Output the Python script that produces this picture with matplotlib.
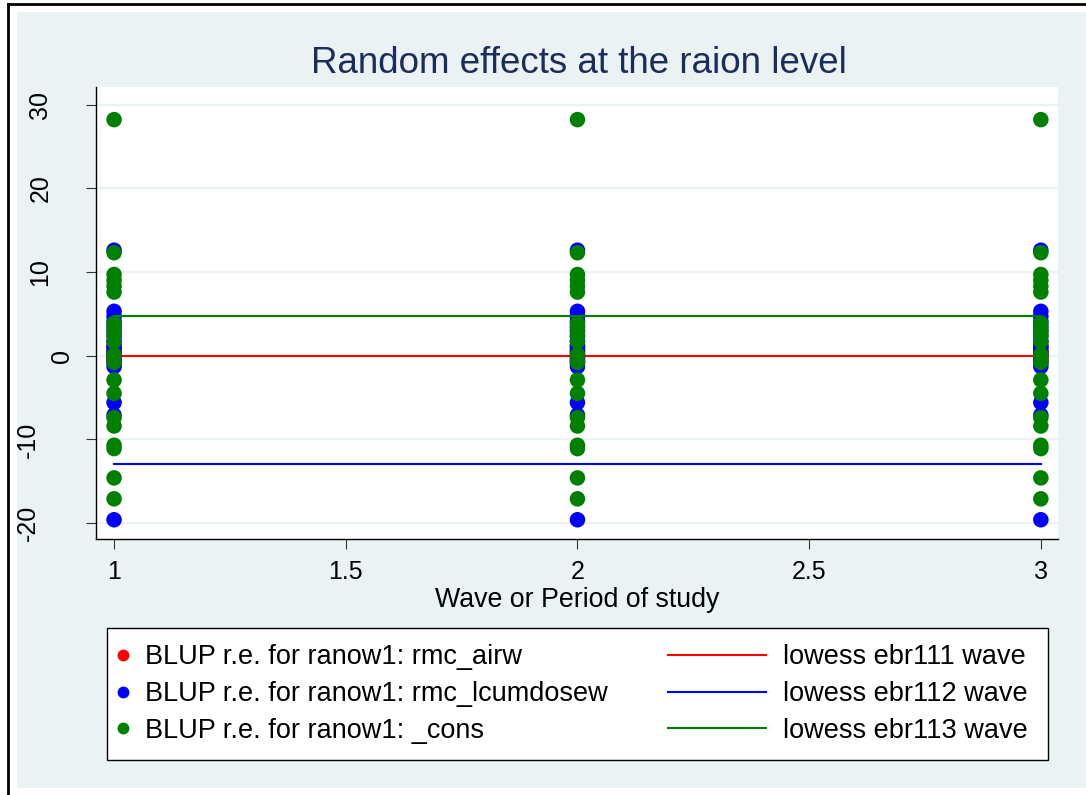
import matplotlib
matplotlib.use('Agg')
import matplotlib.pyplot as plt
from matplotlib.patches import Rectangle
from matplotlib.lines import Line2D
from matplotlib.transforms import ScaledTranslation, blended_transform_factory

plt.rcParams['font.family'] = ['Liberation Sans', 'DejaVu Sans']

# waves (x axis)
waves = [1, 2, 3]

# BLUP random effects per raion (same at each wave)
re_airw = [-0.9, -0.5, -0.2, 0.1, 0.3, 0.6, 0.9, 1.2]
re_lcumdosew = [12.6, 5.3, 4.7, 4.1, 3.5, 2.9, 2.3, 1.7, 1.1, 0.5, -0.1, -0.7, -1.3,
                -5.6, -7.1, -19.6]
re_cons = [28.2, 12.3, 9.7, 9.0, 8.3, 7.6, 3.9, 3.2, 2.5, 1.7, 0.1, -0.8,
           -2.9, -4.5, -7.4, -8.4, -10.7, -11.1, -14.6, -17.1]

# lowess smooths
lowess_111 = [0.0, 0.0, 0.0]
lowess_112 = [-12.9, -12.9, -12.9]
lowess_113 = [4.8, 4.8, 4.8]

scatter_labels = ['BLUP r.e. for ranow1: rmc_airw',
                  'BLUP r.e. for ranow1: rmc_lcumdosew',
                  'BLUP r.e. for ranow1: _cons']
line_labels = ['lowess ebr111 wave', 'lowess ebr112 wave', 'lowess ebr113 wave']
colors = ['#FF0000', '#0000FF', '#008000']

xticks = [1, 1.5, 2, 2.5, 3]
xticklabels = ['1', '1.5', '2', '2.5', '3']
yticks = [-20, -10, 0, 10, 20, 30]

BG = '#EAF2F3'

fig = plt.figure(figsize=(10.86, 7.95), dpi=100)
fig.patch.set_facecolor('white')
fig.patches.append(Rectangle((0.0157, 0.0088), 0.99, 0.9761, transform=fig.transFigure,
                             facecolor=BG, edgecolor='none', zorder=-5))
fig.add_artist(Line2D([0.0074, 0.0074], [0.0, 0.995], transform=fig.transFigure,
                      color='black', lw=2, zorder=5))
fig.add_artist(Line2D([0.0074, 1.0], [0.995, 0.995], transform=fig.transFigure,
                      color='black', lw=2, zorder=5))

ax = fig.add_axes([0.0884, 0.3220, 0.8858, 0.5686])
ax.set_zorder(1)
ax.set_facecolor('white')

series = [re_airw, re_lcumdosew, re_cons]
smooths = [lowess_111, lowess_112, lowess_113]
for i, (vals, sm, c) in enumerate(zip(series, smooths, colors)):
    xs = [w for w in waves for v in vals]
    ys = [v for w in waves for v in vals]
    ax.scatter(xs, ys, s=125, color=c, edgecolors='none', zorder=3 + 2 * i)
    ax.plot(waves, sm, color=c, lw=1.5, zorder=4 + 2 * i)

ax.set_xlim(0.961, 3.037)
ax.set_ylim(-21.9, 32.1)
ax.set_xticks(xticks)
ax.set_xticklabels(xticklabels)
ax.set_yticks(yticks)
ax.set_yticklabels([])
ax.tick_params(axis='both', length=7.2, width=0.8, color='#333333', labelsize=18)
ax.tick_params(axis='x', pad=8)
ax.grid(axis='y', color=BG, lw=1.6, zorder=1)
ax.set_axisbelow(True)
for s in ['top', 'right']:
    ax.spines[s].set_visible(False)
for s in ['left', 'bottom']:
    ax.spines[s].set_linewidth(1.0)
ax.set_xlabel('Wave or Period of study', fontsize=19.3, labelpad=2)

# rotated y labels, Stata-like: wider labels sit further left
ytrans = blended_transform_factory(ax.transAxes, ax.transData)
ylabs = []
for t in yticks:
    ylabs.append(ax.text(0, t, str(t), rotation=90, ha='right', va='center', fontsize=18,
                         transform=ytrans + ScaledTranslation(-22 / fig.dpi, 0, fig.dpi_scale_trans),
                         clip_on=False))

fig.text(0.533, 0.92, 'Random effects at the raion level', fontsize=26.5,
         color='#1C2D5A', ha='center', va='center')

# legend frame and two legend columns
fig.patches.append(Rectangle((0.0985, 0.0440), 0.8665, 0.1660, transform=fig.transFigure,
                             facecolor='white', edgecolor='black', lw=1.0, zorder=2))
mh = [Line2D([], [], ls='', marker='o', markersize=7.5, color=c) for c in colors]
lh = [Line2D([], [], lw=1.5, color=c) for c in colors]
leg1 = fig.legend(mh, scatter_labels, loc='center left', bbox_to_anchor=(0.1059, 0.127),
                  frameon=False, fontsize=19.5, handlelength=0.6, handletextpad=0.52,
                  borderpad=0, borderaxespad=0, labelspacing=0.4)
leg2 = fig.legend(lh, line_labels, loc='center left', bbox_to_anchor=(0.6151, 0.127),
                  frameon=False, fontsize=19.5, handlelength=3.63, handletextpad=0.63,
                  borderpad=0, borderaxespad=0, labelspacing=0.4)
leg1.set_zorder(3)
leg2.set_zorder(3)

fig.canvas.draw()
hs = [l.get_window_extent().height for l in ylabs]
hmin = min(hs)
for l, h in zip(ylabs, hs):
    shift = 22 + 1.55 * (h - hmin)
    l.set_transform(ytrans + ScaledTranslation(-shift / fig.dpi, 0, fig.dpi_scale_trans))

fig.savefig('out.png', dpi=100)
